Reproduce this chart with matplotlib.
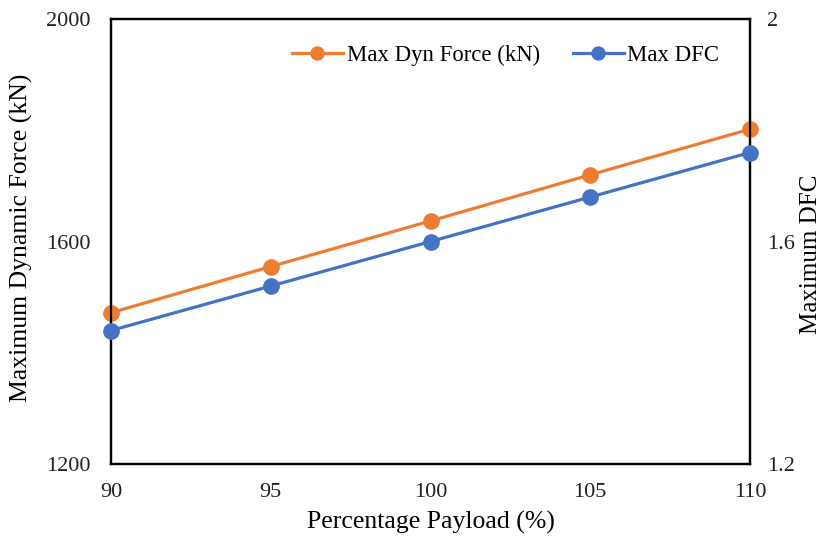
import matplotlib
matplotlib.use("Agg")
import matplotlib.pyplot as plt

payload = [90, 95, 100, 105, 110]
max_dyn_force = [1472, 1555, 1637, 1720, 1802]
max_dfc = [1.44, 1.52, 1.60, 1.68, 1.76]
x_ticks = [90, 95, 100, 105, 110]
left_ticks = [1200, 1600, 2000]
right_ticks = [1.2, 1.6, 2.0]
right_tick_labels = ["1.2", "1.6", "2"]

plt.rcParams['font.family'] = ['Liberation Serif', 'DejaVu Serif']

fig = plt.figure(figsize=(8.23, 5.39), dpi=100)
ax = fig.add_axes([0.1349, 0.1391, 0.7764, 0.8256])
ax2 = ax.twinx()

orange = '#ED7D31'
blue = '#4472C4'

l1, = ax.plot(payload, max_dyn_force, color=orange, lw=2.3, marker='o', ms=11,
              label='Max Dyn Force (kN)', clip_on=False, zorder=3)
l2, = ax2.plot(payload, max_dfc, color=blue, lw=2.3, marker='o', ms=11,
               label='Max DFC', clip_on=False, zorder=3)

ax.set_xlim(90, 110)
ax.set_ylim(1200, 2000)
ax2.set_ylim(1.2, 2.0)
ax.set_xticks(x_ticks)
ax.set_yticks(left_ticks)
ax2.set_yticks(right_ticks)
ax2.set_yticklabels(right_tick_labels)

for a in (ax, ax2):
    for s in a.spines.values():
        s.set_linewidth(1.6)
        s.set_color('black')
    a.tick_params(length=0, labelsize=16, colors='#222222')
ax.tick_params(axis='x', pad=14)
ax.tick_params(axis='y', pad=15)
ax2.tick_params(axis='y', pad=12)

ax.set_xlabel('Percentage Payload (%)', fontsize=18.5)
ax.set_ylabel('Maximum Dynamic Force (kN)', fontsize=18.5)
ax2.set_ylabel('Maximum DFC', fontsize=18)
ax.xaxis.set_label_coords(0.5, -0.105)
ax.yaxis.set_label_coords(-0.122, 0.509)
ax2.yaxis.set_label_coords(1.078, 0.471)

ax.legend(handles=[l1, l2], loc='center left', ncol=2, frameon=False,
          fontsize=16.4, handlelength=2.25, handletextpad=0.15, columnspacing=1.45,
          markerscale=0.85, borderpad=0, borderaxespad=0,
          bbox_to_anchor=(0.283, 0.919))

fig.savefig('out.png', dpi=100)
